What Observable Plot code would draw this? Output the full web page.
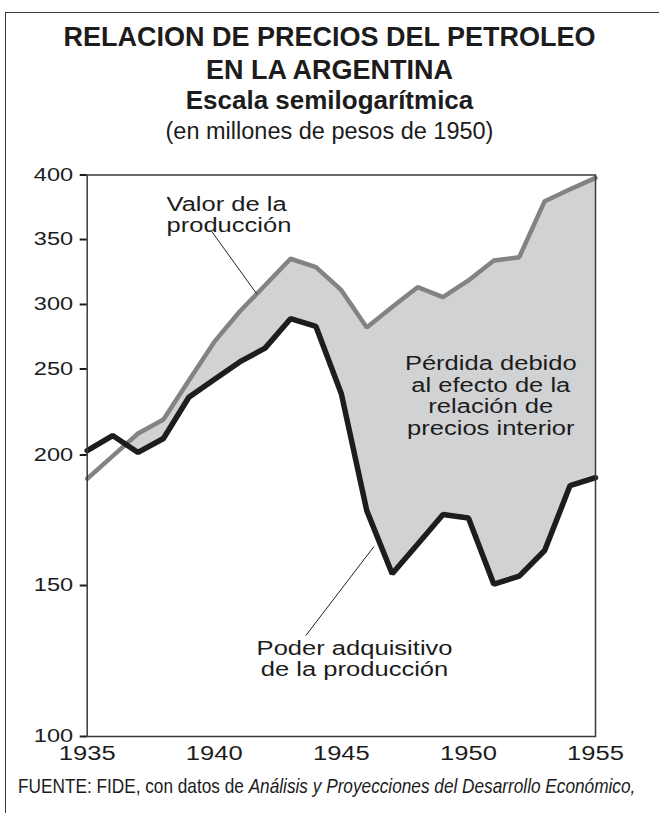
<!DOCTYPE html>
<html>
<head>
<meta charset="utf-8">
<script src="https://cdn.jsdelivr.net/npm/d3@7"></script>
<script src="https://cdn.jsdelivr.net/npm/@observablehq/plot@0.6"></script>
<style>
  html, body { margin: 0; padding: 0; background: #fff; }
  #page { position: relative; width: 659px; height: 813px; overflow: hidden;
          font-family: "Liberation Sans", Arial, Helvetica, sans-serif; color: #1c1c1c; }
  #box { position: absolute; left: 5px; top: 12px; width: 720px; height: 900px;
         border: 1.5px solid #3a3a3a; box-sizing: border-box; }
  .t { position: absolute; left: 0; width: 659px; text-align: center; white-space: nowrap; line-height: 1; }
  .b { font-weight: bold; }
  #chart { position: absolute; left: 0; top: 150px; }
  #caption { position: absolute; left: 18px; top: 775px; font-size: 21px; line-height: 1; white-space: nowrap;
             transform: scaleX(0.82); transform-origin: 0 0; }
</style>
</head>
<body>
<div id="page">
  <div id="box"></div>
  <div id="t1" class="t b" style="top:24px;font-size:27px;"></div>
  <div id="t2" class="t b" style="top:57px;font-size:27px;"></div>
  <div id="t3" class="t b" style="top:87px;font-size:26px;"></div>
  <div id="t4" class="t" style="top:120px;font-size:23.5px;"></div>
  <div id="chart"></div>
  <div id="caption"></div>
</div>
<script>
// ---- data ----
const years = [1935, 1936, 1937, 1938, 1939, 1940, 1941, 1942, 1943, 1944, 1945,
               1946, 1947, 1948, 1949, 1950, 1951, 1952, 1953, 1954, 1955];
// Valor de la producción (grey line)
const valorProduccion = [190.9, 199.6, 212.5, 220.6, 243.3, 271, 294.6, 314.8, 335.2, 328.7, 311,
                         282.2, 298, 313.3, 305.6, 318.5, 333.8, 336.4, 379.7, 388.9, 397.8];
// Poder adquisitivo de la producción (black line)
const poderAdquisitivo = [202.6, 211.3, 201.5, 209.6, 233.6, 243.9, 255.5, 266.2, 289, 283, 235.6,
                          178.7, 154.5, 165.8, 177.2, 175.9, 150.5, 153.6, 163.4, 188.3, 191.3];
const yTicks = [100, 150, 200, 250, 300, 350, 400];
const xTicks = [1935, 1940, 1945, 1950, 1955];

const titleLines = ["RELACION DE PRECIOS DEL PETROLEO", "EN LA ARGENTINA",
                    "Escala semilogarítmica", "(en millones de pesos de 1950)"];
const captionPlain = "FUENTE: FIDE, con datos de ";
const captionItalic = "Análisis y Proyecciones del Desarrollo Económico,";

const labelTexts = ["Valor de la\nproducción",
                    "Pérdida debido\nal efecto de la\nrelación de\nprecios interior",
                    "Poder adquisitivo\nde la producción"];
const labelYears = [1938.12, 1950.88, 1945.52];
const labelValues = [355.8, 211.9, 119.9];
const labelAnchors = ["start", "middle", "middle"];

const leaderYear1 = [1939.92, 1943.6];
const leaderValue1 = [355.7, 133.4];
const leaderYear2 = [1941.67, 1946.28];
const leaderValue2 = [308.2, 164.9];

// ---- text ----
document.getElementById("t1").textContent = titleLines[0];
document.getElementById("t2").textContent = titleLines[1];
document.getElementById("t3").textContent = titleLines[2];
document.getElementById("t4").textContent = titleLines[3];
const cap = document.getElementById("caption");
cap.appendChild(document.createTextNode(captionPlain));
const it = document.createElement("i");
it.textContent = captionItalic;
cap.appendChild(it);

// ---- chart ----
const rows = years.map((year, i) => ({year, valor: valorProduccion[i], poder: poderAdquisitivo[i]}));
const labels = labelTexts.map((text, i) => ({text, year: labelYears[i], value: labelValues[i], anchor: labelAnchors[i]}));
const leaders = leaderYear1.map((x1, i) => ({x1, y1: leaderValue1[i], x2: leaderYear2[i], y2: leaderValue2[i]}));

const W = 659, H = 620, mT = 24.5, mB = 34, mL = 86.7, mR = 64;
const innerH = H - mT - mB;
// hand-drawn "semilog" axis of the original: tick spacing
const yFrac = [0, 0.2689, 0.5013, 0.6545, 0.7694, 0.8851, 1];

const textOpts = {x: "year", y: "value", text: "text", lineAnchor: "bottom", lineHeight: 1.1, fontSize: 19.5, fill: "#1c1c1c"};

const chart = Plot.plot({
  width: W, height: H,
  marginTop: mT, marginBottom: mB, marginLeft: mL, marginRight: mR,
  style: {fontFamily: "'Liberation Sans', Arial, sans-serif", color: "#1c1c1c", background: "transparent", overflow: "visible"},
  x: {domain: [1935, 1955]},
  y: {type: "linear", domain: yTicks, range: yFrac.map(f => mT + (1 - f) * innerH)},
  marks: [
    Plot.areaY(rows, {x: "year", y1: 100, y2: "valor", fill: "#d1d2d4"}),
    Plot.areaY(rows, {x: "year", y1: 100, y2: "poder", fill: "#ffffff"}),
    Plot.line(rows, {x: "year", y: "valor", stroke: "#838386", strokeWidth: 4.5, strokeLinejoin: "miter"}),
    Plot.line(rows, {x: "year", y: "poder", stroke: "#1d1d1b", strokeWidth: 5.5, strokeLinejoin: "miter"}),
    Plot.link(leaders, {x1: "x1", y1: "y1", x2: "x2", y2: "y2", stroke: "#222", strokeWidth: 1}),
    Plot.text(labels.filter(d => d.anchor === "start"), {...textOpts, textAnchor: "start"}),
    Plot.text(labels.filter(d => d.anchor === "middle"), {...textOpts, textAnchor: "middle"}),
    Plot.frame({stroke: "#3a3a3a", strokeWidth: 1.5}),
    Plot.axisY({ticks: yTicks, tickSize: 7, tickPadding: 7, fontSize: 18, strokeWidth: 2, tickFormat: d => String(d)}),
    Plot.axisX({ticks: xTicks, tickSize: 0, tickPadding: 10, fontSize: 19.5, tickFormat: d => String(d)})
  ]
});

// the original's chart lettering is horizontally extended
chart.querySelectorAll("text").forEach(t => {
  const x = +t.getAttribute("x") || 0, y = +t.getAttribute("y") || 0;
  const tr = t.getAttribute("transform") || "";
  t.setAttribute("transform", `${tr} translate(${x},${y}) scale(1.31,1) translate(${-x},${-y})`);
});
document.getElementById("chart").appendChild(chart);
</script>
</body>
</html>
